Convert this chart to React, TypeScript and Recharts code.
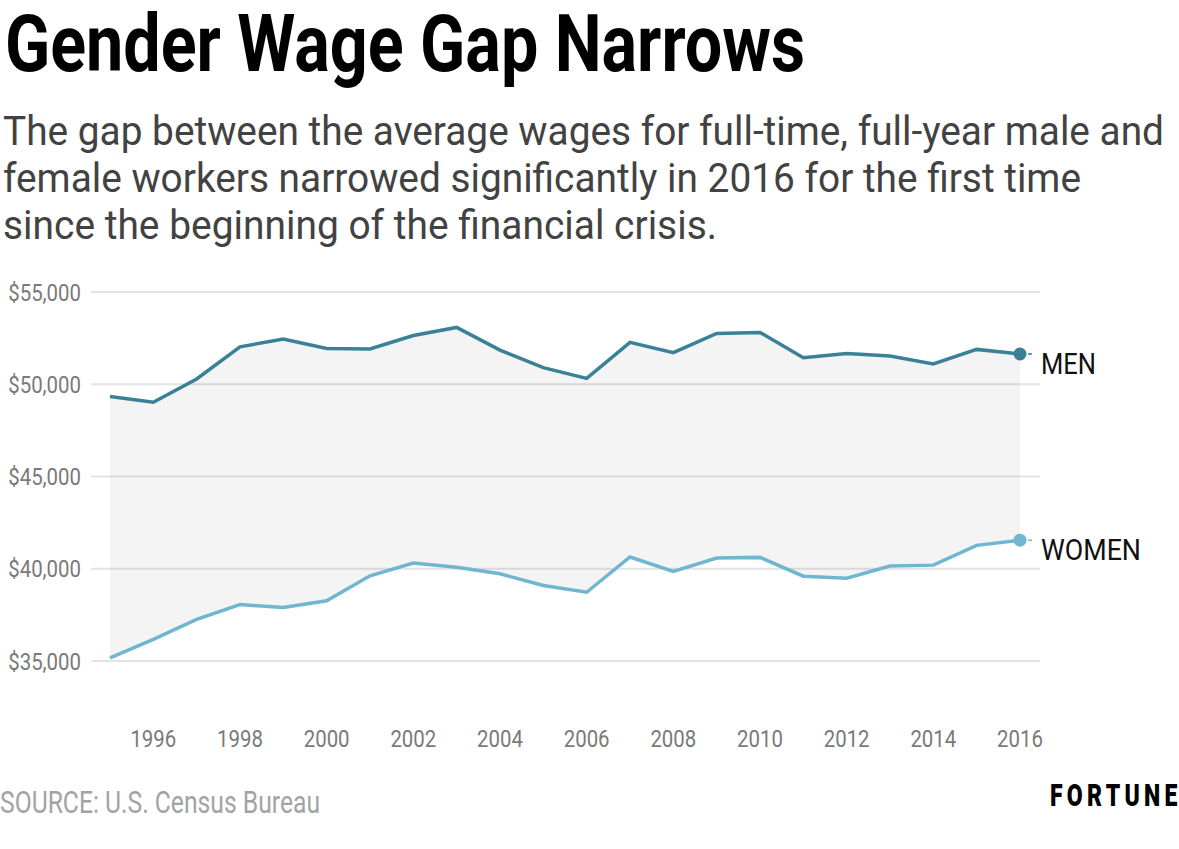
import React from "react";
import {
  ComposedChart,
  Line,
  Area,
  XAxis,
  YAxis,
  CartesianGrid,
} from "recharts";

const years = [
  1995, 1996, 1997, 1998, 1999, 2000, 2001, 2002, 2003, 2004, 2005, 2006,
  2007, 2008, 2009, 2010, 2011, 2012, 2013, 2014, 2015, 2016,
];
const menWages = [
  49335, 49030, 50290, 52030, 52450, 51940, 51910, 52640, 53080, 51850, 50900,
  50320, 52270, 51710, 52750, 52810, 51440, 51670, 51530, 51100, 51890, 51640,
];
const womenWages = [
  35180, 36180, 37260, 38060, 37910, 38270, 39620, 40310, 40090, 39730, 39100,
  38730, 40640, 39860, 40580, 40620, 39600, 39490, 40150, 40200, 41270, 41550,
];
const yTicks = [35000, 40000, 45000, 50000, 55000];
const xTicks = [1996, 1998, 2000, 2002, 2004, 2006, 2008, 2010, 2012, 2014, 2016];

const MEN_COLOR = "#3a8198";
const WOMEN_COLOR = "#70b6d1";
const FONT = "Roboto, 'Noto Sans', sans-serif";

const data = years.map((year, i) => ({
  year,
  men: menWages[i],
  women: womenWages[i],
  gap: [womenWages[i], menWages[i]],
}));

const fmtMoney = (v: number) => "$" + v.toLocaleString("en-US");

// Roboto squeezed horizontally to stand in for Roboto Condensed
const YTick = ({ x, y, payload }: any) => (
  <g transform={`translate(${x},${y + 8.5}) scale(0.85,1)`}>
    <text x={0} y={0} textAnchor="end" fontFamily={FONT} fontSize={24} fill="#7a7a7a">
      {fmtMoney(payload.value)}
    </text>
  </g>
);

const XTick = ({ x, y, payload }: any) => (
  <g transform={`translate(${x},${y + 8.5}) scale(0.85,1)`}>
    <text x={0} y={0} textAnchor="middle" fontFamily={FONT} fontSize={24} fill="#7a7a7a">
      {payload.value}
    </text>
  </g>
);

const endLabel = (label: string, color: string, width: number) => (props: any) => {
  const { cx, cy, index } = props;
  if (index !== data.length - 1) return <g key={`d-${label}-${index}`} />;
  return (
    <g key={`d-${label}-${index}`}>
      <circle cx={cx} cy={cy} r={6.5} fill={color} />
      <line x1={cx + 8} x2={cx + 12} y1={cy} y2={cy} stroke={color} strokeWidth={1.5} />
      <text
        x={cx + 21}
        y={cy + 20}
        fontFamily={FONT}
        fontSize={29}
        fill="#111"
        textLength={width}
        lengthAdjust="spacingAndGlyphs"
      >
        {label}
      </text>
    </g>
  );
};

export default function App() {
  return (
    <div
      style={{
        position: "absolute",
        left: 0,
        top: 0,
        width: 1179,
        height: 849,
        background: "#fff",
        overflow: "hidden",
      }}
    >
      <svg
        width={1179}
        height={849}
        style={{ position: "absolute", left: 0, top: 0 }}
      >
        <text
          x={5}
          y={71}
          fontFamily={FONT}
          fontWeight={700}
          fontSize={80}
          fill="#000"
          textLength={800}
          lengthAdjust="spacingAndGlyphs"
        >
          Gender Wage Gap Narrows
        </text>
        <g fontFamily={FONT} fontSize={40} fill="#424242">
          <text x={3} y={145} textLength={1161} lengthAdjust="spacingAndGlyphs">
            The gap between the average wages for full-time, full-year male and
          </text>
          <text x={3} y={192} textLength={1078} lengthAdjust="spacingAndGlyphs">
            female workers narrowed significantly in 2016 for the first time
          </text>
          <text x={3} y={239} textLength={714} lengthAdjust="spacingAndGlyphs">
            since the beginning of the financial crisis.
          </text>
        </g>
        <text
          x={0}
          y={813}
          fontFamily={FONT}
          fontSize={32}
          fill="#a3a3a3"
          textLength={320}
          lengthAdjust="spacingAndGlyphs"
        >
          SOURCE: U.S. Census Bureau
        </text>
        <g transform="translate(1050,806) scale(0.72,1)">
          <text
            x={0}
            y={0}
            fontFamily={FONT}
            fontWeight={900}
            fontSize={32}
            fill="#000"
            textLength={177}
            lengthAdjust="spacing"
          >
            FORTUNE
          </text>
        </g>
      </svg>

      <div style={{ position: "absolute", left: 0, top: 0 }}>
        <ComposedChart
          width={1179}
          height={780}
          data={data}
          margin={{ top: 292, right: 139, bottom: 22, left: 0 }}
        >
          <CartesianGrid
            vertical={false}
            horizontalValues={yTicks}
            stroke="#e3e3e3"
            strokeWidth={2}
          />
          <XAxis
            dataKey="year"
            type="number"
            domain={[1995, 2016]}
            ticks={xTicks}
            padding={{ left: 19, right: 20 }}
            axisLine={false}
            tickLine={false}
            tickSize={0}
            tickMargin={40}
            height={60}
            tick={<XTick />}
            interval={0}
          />
          <YAxis
            domain={[33000, 55000]}
            ticks={yTicks}
            axisLine={false}
            tickLine={false}
            tickSize={0}
            tickMargin={10}
            width={91}
            tick={<YTick />}
            interval={0}
          />
          <Area
            dataKey="gap"
            type="linear"
            stroke="none"
            fill="#000"
            fillOpacity={0.045}
            isAnimationActive={false}
          />
          <Line
            dataKey="men"
            type="linear"
            stroke={MEN_COLOR}
            strokeWidth={3.5}
            dot={endLabel("MEN", MEN_COLOR, 55)}
            activeDot={false}
            isAnimationActive={false}
          />
          <Line
            dataKey="women"
            type="linear"
            stroke={WOMEN_COLOR}
            strokeWidth={3.5}
            dot={endLabel("WOMEN", WOMEN_COLOR, 100)}
            activeDot={false}
            isAnimationActive={false}
          />
        </ComposedChart>
      </div>
    </div>
  );
}
